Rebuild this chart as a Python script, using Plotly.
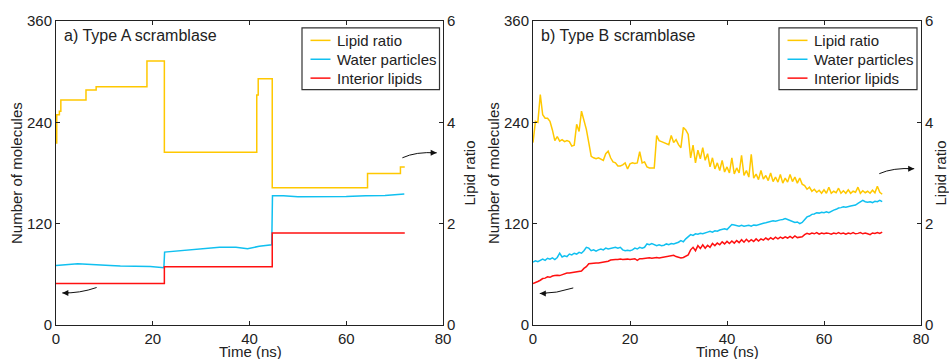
import plotly.graph_objects as go

# ---------------- Panel a) Type A scramblase ----------------
a_ratio_t = [0, 0.15, 0.7, 1.0, 6.2, 8.3, 18.8, 22.4, 41.5, 41.8, 44.7, 64.4, 71.2, 72.1]
a_ratio = [3.59, 4.15, 4.22, 4.44, 4.64, 4.70, 5.21, 3.41, 4.54, 4.86, 2.71, 2.99, 3.12, 3.12]

a_water_t = [0, 4.5, 11.2, 13.3, 19.5, 21.6, 22.3, 22.45, 24.8, 27.5, 30.3, 33.8, 37.2, 39.6,
             42.0, 44.6, 44.75, 47, 50, 55, 60, 64, 68, 72]
a_water = [70.6, 72.6, 70.6, 69.8, 69.4, 68.6, 67.8, 86.3, 87.4, 89.0, 90.2, 92.2, 92.2, 90.2,
           93.3, 94.9, 153, 153, 152, 152, 152.3, 153, 153.5, 155]

a_interior_t = [0, 22.4, 44.7, 72.1]
a_interior = [49, 69, 109, 109]

# ---------------- Panel b) Type B scramblase (sampled every 0.5 ns) ----------------
b_ratio = [
    3.60, 4.02, 4.00, 4.55, 4.15, 4.08, 4.08, 4.02, 3.85, 3.64,
    3.72, 3.63, 3.66, 3.62, 3.64, 3.62, 3.53, 3.55, 3.96, 3.82,
    4.22, 4.05, 3.86, 3.60, 3.33, 3.30, 3.28, 3.30, 3.27, 3.25,
    3.38, 3.43, 3.30, 3.22, 3.20, 3.14, 3.14, 3.16, 3.20, 3.08,
    3.18, 3.20, 3.19, 3.20, 3.42, 3.20, 3.22, 3.12, 3.10, 3.10,
    3.10, 3.74, 3.64, 3.62, 3.60, 3.57, 3.56, 3.74, 3.60, 3.66,
    3.56, 3.50, 3.90, 3.85, 3.76, 3.30, 3.55, 3.20, 3.45, 3.28,
    3.50, 3.25, 3.38, 3.12, 3.30, 3.08, 3.20, 3.05, 3.25, 3.02,
    3.12, 3.00, 3.30, 2.98, 3.10, 3.00, 3.35, 2.95, 3.05, 2.92,
    3.37, 2.90, 2.98, 2.87, 3.05, 2.88, 2.95, 2.85, 3.00, 2.83,
    2.92, 2.82, 2.97, 2.80, 2.90, 2.82, 2.97, 2.83, 2.92, 2.80,
    2.90, 2.78, 2.75, 2.68, 2.72, 2.64, 2.68, 2.62, 2.66, 2.60,
    2.67, 2.60, 2.72, 2.60, 2.64, 2.61, 2.70, 2.60, 2.65, 2.60,
    2.67, 2.60, 2.64, 2.62, 2.72, 2.60, 2.65, 2.61, 2.64, 2.60,
    2.66, 2.61, 2.74, 2.62, 2.58,
]
b_water = [
    74.5, 76, 75, 77, 78, 76.5, 79, 78, 79.5, 77.5,
    80, 85, 80.5, 82, 81, 84, 83, 85, 84, 86,
    85, 88, 92, 91, 88, 89, 87.5, 89, 90, 89,
    91, 90, 90.5, 91, 92, 91, 92, 89, 88, 88.5,
    88, 89, 91, 90, 92, 91, 92, 96, 95, 96.5,
    95, 94, 95, 94, 94.5, 96, 95, 96.5, 96, 97,
    98, 100, 98.5, 102, 104, 107, 106, 108, 107.5, 108.5,
    108, 109.5, 110, 111, 110, 111.5, 111, 112.5, 113, 114,
    113, 116, 119, 118.5, 118, 117, 118, 117, 117.5, 118,
    117, 118.5, 118, 119, 120, 120.5, 121, 122, 123, 123.5,
    123, 124, 124.5, 125, 126, 125, 124, 122.5, 121.5, 122,
    120, 121.5, 125, 128, 129, 131, 131.5, 133, 132.5, 133.5,
    133, 134, 133, 135, 136, 137, 138.5, 139, 140, 139.5,
    140.5, 141, 141.5, 142, 144, 146, 147.5, 146, 145.5, 146,
    145, 146.5, 146, 147.5, 146,
]
b_interior = [
    49, 50, 51.5, 53, 55, 55.5, 57, 56.5, 58, 58.5,
    59, 58.5, 59.5, 60.5, 61.5, 61.5, 62, 62.5, 62.5, 63,
    64, 67, 69, 72.5, 73, 73, 73.5, 73.5, 74, 74,
    74.5, 75.5, 77, 77.5, 77.5, 77.5, 78, 77.5, 78, 78,
    77.5, 78, 78.5, 76.5, 78.5, 78.5, 79, 79, 79.5, 79,
    79.5, 80, 79.5, 80, 80.5, 81, 81.5, 82, 82.5, 81,
    80, 79.5, 80, 81.5, 83, 89, 92, 88, 94, 90.5,
    95, 91, 94.5, 92, 96.5, 94, 97, 95, 98.5, 96,
    99, 96.5, 99.5, 97, 100, 97.5, 101, 98, 101.5, 98.5,
    101, 99, 102, 99.5, 102, 100.5, 103, 101, 103.5, 101.5,
    104, 102, 104, 102.5, 104.5, 103, 105, 103, 105.5, 103.5,
    104, 104.5, 107, 108.5, 107.5, 109, 108, 109.5, 107.5, 109,
    108, 109, 108.5, 107.5, 109, 108, 109.5, 108, 109, 107.5,
    109, 108, 109.5, 108, 108.5, 109.5, 108, 109, 108, 107,
    109, 108.5, 109.5, 108.5, 110,
]
b_t = [i * 0.5 for i in range(len(b_ratio))]

series_names = ["Lipid ratio", "Water particles", "Interior lipids"]
panel_titles = ["a) Type A scramblase", "b) Type B scramblase"]
x_ticks = [0, 20, 40, 60, 80]
y_ticks = [0, 120, 240, 360]
r_ticks = [0, 2, 4, 6]

YELLOW = "#FFC800"
BLUE = "#10C0F0"
RED = "#FF1010"
COLORS = [YELLOW, BLUE, RED]
AXC = "#222222"
FONT = "Liberation Sans"

fig = go.Figure()

# Panel a
fig.add_trace(go.Scatter(x=a_ratio_t, y=a_ratio, name=series_names[0], mode="lines",
                         line=dict(color=YELLOW, width=1.5, shape="hv"),
                         xaxis="x", yaxis="y2", showlegend=False))
fig.add_trace(go.Scatter(x=a_water_t, y=a_water, name=series_names[1], mode="lines",
                         line=dict(color=BLUE, width=1.5),
                         xaxis="x", yaxis="y", showlegend=False))
fig.add_trace(go.Scatter(x=a_interior_t, y=a_interior, name=series_names[2], mode="lines",
                         line=dict(color=RED, width=1.5, shape="hv"),
                         xaxis="x", yaxis="y", showlegend=False))
# Panel b
fig.add_trace(go.Scatter(x=b_t, y=b_ratio, name=series_names[0], mode="lines",
                         line=dict(color=YELLOW, width=1.5),
                         xaxis="x2", yaxis="y4", showlegend=False))
fig.add_trace(go.Scatter(x=b_t, y=b_water, name=series_names[1], mode="lines",
                         line=dict(color=BLUE, width=1.5),
                         xaxis="x2", yaxis="y3", showlegend=False))
fig.add_trace(go.Scatter(x=b_t, y=b_interior, name=series_names[2], mode="lines",
                         line=dict(color=RED, width=1.5),
                         xaxis="x2", yaxis="y3", showlegend=False))

tickfont = dict(family=FONT, size=15, color=AXC)
common = dict(showgrid=False, zeroline=False, showline=True, linecolor=AXC, linewidth=1,
              ticks="inside", ticklen=4, tickcolor=AXC, tickfont=tickfont)

# plot areas sit at page x 56-443 / 533-921, y 19-325 (body margin removed below)
d1 = [0, 387 / 865]
d2 = [(533 - 56) / 865, 1]

fig.update_layout(
    width=949, height=359,
    margin=dict(l=56, r=28, t=19, b=34),
    paper_bgcolor="white", plot_bgcolor="white",
    font=dict(family=FONT, size=15, color=AXC),
    showlegend=False,
    hovermode=False,
    xaxis=dict(domain=d1, range=[0, 80], tickvals=x_ticks, anchor="y", mirror="ticks", **common),
    yaxis=dict(domain=[0, 1], range=[0, 360], tickvals=y_ticks, anchor="x", **common),
    yaxis2=dict(range=[0, 6], tickvals=r_ticks, anchor="x", overlaying="y", side="right", **common),
    xaxis2=dict(domain=d2, range=[0, 80], tickvals=x_ticks, anchor="y3", mirror="ticks", **common),
    yaxis3=dict(domain=[0, 1], range=[0, 360], tickvals=y_ticks, anchor="x2", **common),
    yaxis4=dict(range=[0, 6], tickvals=r_ticks, anchor="x2", overlaying="y3", side="right", **common),
)


def px_x(p):
    return (p - 56) / 865


def px_y(p):
    return (325 - p) / 306


ann = []
shapes = []

# panel titles
for cx, title in zip((62, 539), panel_titles):
    ann.append(dict(text=title, x=px_x(cx), y=px_y(34), xref="paper", yref="paper",
                    xanchor="left", yanchor="middle", showarrow=False, font=dict(size=16)))
# axis titles
for cx in (250, 727):
    ann.append(dict(text="Time (ns)", x=px_x(cx), y=px_y(352), xref="paper", yref="paper",
                    xanchor="center", yanchor="middle", showarrow=False, font=dict(size=15)))
for cx in (16, 493):
    ann.append(dict(text="Number of molecules", x=px_x(cx), y=px_y(172), xref="paper", yref="paper",
                    xanchor="center", yanchor="middle", showarrow=False, textangle=-90,
                    font=dict(size=15)))
# right-hand "Lipid ratio" titles, anchored by their left edge
for lx in (458, 929):
    ann.append(dict(text="Lipid ratio", x=px_x(lx), y=px_y(172), xref="paper", yref="paper",
                    xanchor="left", yanchor="middle", showarrow=False, textangle=-90,
                    font=dict(size=15)))

# legends (box, line samples, labels)
for bx0, bx1 in ((302, 439.5), (779, 917)):
    shapes.append(dict(type="rect", xref="paper", yref="paper",
                       x0=px_x(bx0), x1=px_x(bx1), y0=px_y(88), y1=px_y(26),
                       line=dict(color="#333333", width=1.2), fillcolor="white", layer="above"))
    for i, (name, col) in enumerate(zip(series_names, COLORS)):
        ry = 38.5 + 19 * i
        shapes.append(dict(type="line", xref="paper", yref="paper",
                           x0=px_x(bx0 + 8.5), x1=px_x(bx0 + 28.5), y0=px_y(ry), y1=px_y(ry),
                           line=dict(color=col, width=1.5), layer="above"))
        ann.append(dict(text=name, x=px_x(bx0 + 32.5), y=px_y(ry), xref="paper", yref="paper",
                        xanchor="left", yanchor="middle", showarrow=False, font=dict(size=15)))

# curved arrows (path + arrowhead)
arrows = [
    # xref, yref, tail, control, head, ax
    ("x", "y", (8.4, 44.4), (4.9, 37.4), (1.3, 38.0), 8),
    ("x", "y", (71.6, 198.0), (74.4, 205.5), (78.7, 203.9), -8),
    ("x2", "y3", (8.3, 43.9), (4.9, 37.4), (1.4, 37.3), 8),
    ("x2", "y3", (71.4, 179.2), (74.2, 186.5), (78.6, 185.1), -8),
]
for xr, yr, t, c, h, axp in arrows:
    shapes.append(dict(type="path", xref=xr, yref=yr,
                       path=f"M {t[0]},{t[1]} Q {c[0]},{c[1]} {h[0]},{h[1]}",
                       line=dict(color="#111111", width=1)))
    ann.append(dict(x=h[0], y=h[1], xref=xr, yref=yr, ax=axp, ay=0, text="", showarrow=True,
                    arrowhead=2, arrowsize=1.2, arrowwidth=1, arrowcolor="#111111"))

fig.update_layout(annotations=ann, shapes=shapes)
fig.write_html(
    "out.html",
    config={"displayModeBar": False, "staticPlot": True},
    post_script="document.body.style.margin='0px';document.body.style.overflow='hidden';",
)
